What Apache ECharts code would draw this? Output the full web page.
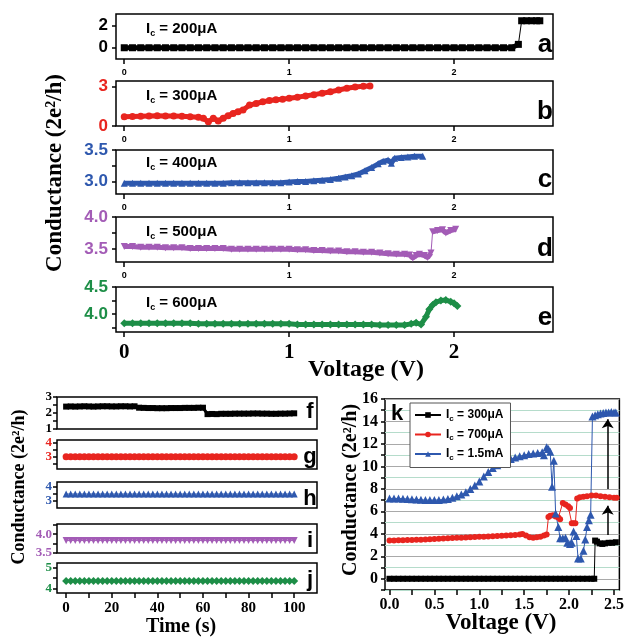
<!DOCTYPE html>
<html>
<head>
<meta charset="utf-8">
<script src="https://cdn.jsdelivr.net/npm/echarts@6.0.0/dist/echarts.min.js"></script>
<style>
  html, body { margin: 0; padding: 0; background: #fff; }
  #chart { width: 627px; height: 637px; }
</style>
</head>
<body>
<div id="chart"></div>
<script>
// ---- panel a : Ic = 200uA ----
var aVoltLow = [0.00,0.05,0.10,0.15,0.20,0.25,0.30,0.35,0.40,0.45,0.50,0.55,0.60,0.65,0.70,0.75,
  0.80,0.85,0.90,0.95,1.00,1.05,1.10,1.15,1.20,1.25,1.30,1.35,1.40,1.45,1.50,1.55,
  1.60,1.65,1.70,1.75,1.80,1.85,1.90,1.95,2.00,2.05,2.10,2.15,2.20,2.25,2.30,2.35,2.39];
var aCondLow = [0,0,0,0,0,0,0,0,0,0,0,0,0,0,0,0,
  0,0,0,0,0,0,0,0,0,0,0,0,0,0,0,0,
  0,0,0,0,0,0,0,0,0,0,0,0,0,0,0,0,0.3];
var aVoltHigh = [2.41,2.44,2.47,2.50,2.52];
var aCondHigh = [2.4,2.4,2.4,2.4,2.4];

// ---- panel b : Ic = 300uA ----
var bVolt = [0.00,0.05,0.10,0.15,0.20,0.25,0.30,0.35,0.40,0.45,0.48,0.51,0.54,0.57,0.60,0.63,0.66,0.69,
  0.72,0.76,0.80,0.84,0.88,0.92,0.96,1.00,1.05,1.10,1.15,1.20,1.25,1.30,1.35,1.40,1.45,1.49];
var bCond = [0.70,0.72,0.74,0.76,0.77,0.76,0.75,0.73,0.70,0.66,0.58,0.32,0.58,0.38,0.58,0.78,0.95,1.08,
  1.20,1.58,1.70,1.83,1.92,1.98,2.03,2.10,2.18,2.27,2.37,2.47,2.58,2.72,2.85,2.95,3.00,3.02];

// ---- panel c : Ic = 400uA ----
var cVolt = [0.00,0.05,0.10,0.15,0.20,0.25,0.30,0.35,0.40,0.45,0.50,0.55,0.60,0.65,0.70,0.75,0.80,0.85,
  0.90,0.95,1.00,1.05,1.10,1.15,1.20,1.25,1.30,1.34,1.38,1.42,1.46,1.50,1.54,1.57,1.60,1.62,1.64,1.68,1.72,1.76,1.81];
var cCond = [2.97,2.97,2.97,2.97,2.97,2.97,2.97,2.97,2.97,2.97,2.97,2.97,2.97,2.98,2.98,2.98,2.98,2.98,
  2.98,2.98,2.99,3.00,3.00,3.01,3.02,3.03,3.05,3.07,3.09,3.12,3.17,3.22,3.28,3.32,3.34,3.29,3.37,3.38,3.39,3.40,3.40];

// ---- panel d : Ic = 500uA ----
var dVoltLow = [0.00,0.05,0.10,0.15,0.20,0.25,0.30,0.35,0.40,0.45,0.50,0.55,0.60,0.65,0.70,0.75,0.80,0.85,
  0.90,0.95,1.00,1.05,1.10,1.15,1.20,1.25,1.30,1.35,1.40,1.45,1.50,1.55,1.60,1.65,1.70,
  1.73,1.75,1.77,1.79,1.82,1.84,1.86];
var dCondLow = [3.54,3.54,3.53,3.53,3.53,3.52,3.52,3.52,3.51,3.51,3.51,3.51,3.51,3.50,3.50,3.50,3.50,3.50,
  3.50,3.50,3.50,3.49,3.49,3.48,3.48,3.47,3.47,3.46,3.46,3.45,3.45,3.44,3.43,3.42,3.42,
  3.41,3.36,3.40,3.42,3.40,3.37,3.44];
var dVoltHigh = [1.87,1.90,1.93,1.95,1.98,2.01];
var dCondHigh = [3.77,3.79,3.80,3.75,3.79,3.81];

// ---- panel e : Ic = 600uA ----
var eVolt = [0.00,0.05,0.10,0.15,0.20,0.25,0.30,0.35,0.40,0.45,0.50,0.55,0.60,0.65,0.70,0.75,0.80,0.85,
  0.90,0.95,1.00,1.05,1.10,1.15,1.20,1.25,1.30,1.35,1.40,1.45,1.50,1.55,1.60,1.65,1.70,
  1.74,1.77,1.80,1.83,1.85,1.87,1.89,1.92,1.95,1.98,2.00,2.02];
var eCond = [3.83,3.83,3.83,3.83,3.83,3.83,3.83,3.83,3.83,3.82,3.82,3.82,3.82,3.82,3.82,3.82,3.82,3.82,
  3.82,3.82,3.82,3.81,3.81,3.81,3.81,3.81,3.81,3.81,3.81,3.81,3.81,3.80,3.80,3.80,3.80,
  3.82,3.84,3.81,3.95,4.09,4.17,4.22,4.25,4.26,4.23,4.20,4.15];

// ---- panels f-j : conductance vs time ----
var tSec = [0,2,4,6,8,10,12,14,16,18,20,22,24,26,28,30,32,34,36,38,40,42,44,46,48,50,
  52,54,56,58,60,62,64,66,68,70,72,74,76,78,80,82,84,86,88,90,92,94,96,98,100];
var fCond = [2.40,2.41,2.40,2.41,2.42,2.41,2.40,2.41,2.42,2.42,2.41,2.41,2.42,2.42,2.41,2.42,
  2.33,2.32,2.31,2.31,2.30,2.30,2.30,2.31,2.31,2.31,2.32,2.32,2.32,2.33,2.33,
  1.93,1.94,1.93,1.95,1.95,1.95,1.96,1.96,1.96,1.96,1.97,1.97,1.96,1.96,1.95,1.95,1.96,1.96,1.97,1.98];
var gCond = [3.00,3.00,3.00,3.00,3.00,3.00,3.00,3.00,3.00,3.00,3.00,3.00,3.00,3.00,3.00,3.00,3.00,
  3.00,3.00,3.00,3.00,3.00,3.00,3.00,3.00,3.00,3.00,3.00,3.00,3.00,3.00,3.00,3.00,3.00,
  3.00,3.00,3.00,3.00,3.00,3.00,3.00,3.00,3.00,3.00,3.00,3.00,3.00,3.00,3.00,3.00,3.00];
var hCond = [3.48,3.48,3.48,3.48,3.48,3.48,3.48,3.48,3.48,3.48,3.48,3.48,3.48,3.48,3.48,3.48,3.48,
  3.48,3.48,3.48,3.48,3.48,3.48,3.48,3.48,3.48,3.48,3.48,3.48,3.48,3.48,3.48,3.48,3.48,
  3.48,3.48,3.48,3.48,3.48,3.48,3.48,3.48,3.48,3.48,3.48,3.48,3.48,3.48,3.48,3.48,3.48];
var iCond = [3.83,3.83,3.83,3.83,3.83,3.83,3.83,3.83,3.83,3.83,3.83,3.83,3.83,3.83,3.83,3.83,3.83,
  3.83,3.83,3.83,3.83,3.83,3.83,3.83,3.83,3.83,3.83,3.83,3.83,3.83,3.83,3.83,3.83,3.83,
  3.83,3.83,3.83,3.83,3.83,3.83,3.83,3.83,3.83,3.83,3.83,3.83,3.83,3.83,3.83,3.83,3.83];
var jCond = [4.37,4.37,4.37,4.37,4.37,4.37,4.37,4.37,4.37,4.37,4.37,4.37,4.37,4.37,4.37,4.37,4.37,
  4.37,4.37,4.37,4.37,4.37,4.37,4.37,4.37,4.37,4.37,4.37,4.37,4.37,4.37,4.37,4.37,4.37,
  4.37,4.37,4.37,4.37,4.37,4.37,4.37,4.37,4.37,4.37,4.37,4.37,4.37,4.37,4.37,4.37,4.37];

// ---- panel k ----
var kNames = ['Ic = 300\u03bcA', 'Ic = 700\u03bcA', 'Ic = 1.5mA'];
var kBlackVolt = [0.00,0.05,0.10,0.15,0.20,0.25,0.30,0.35,0.40,0.45,0.50,0.55,0.60,0.65,0.70,0.75,
  0.80,0.85,0.90,0.95,1.00,1.05,1.10,1.15,1.20,1.25,1.30,1.35,1.40,1.45,1.50,1.55,
  1.60,1.65,1.70,1.75,1.80,1.85,1.90,1.95,2.00,2.05,2.10,2.15,2.20,2.25,2.28,
  2.29,2.31,2.34,2.37,2.40,2.44,2.48,2.52];
var kBlackCond = [0,0,0,0,0,0,0,0,0,0,0,0,0,0,0,0,
  0,0,0,0,0,0,0,0,0,0,0,0,0,0,0,0,
  0,0,0,0,0,0,0,0,0,0,0,0,0,0,0,
  3.40,3.30,3.15,3.10,3.15,3.20,3.20,3.25];
var kRedVolt = [0.00,0.05,0.10,0.15,0.20,0.25,0.30,0.35,0.40,0.45,0.50,0.55,0.60,0.65,0.70,
  0.75,0.80,0.85,0.90,0.95,1.00,1.05,1.10,1.15,1.20,1.25,1.30,1.35,1.40,1.45,
  1.48,1.52,1.56,1.60,1.64,1.68,1.72,1.75,1.77,1.79,1.82,1.85,1.88,1.90,
  1.93,1.96,1.99,2.01,2.03,2.05,2.07,2.09,2.12,2.16,2.20,2.25,2.30,2.35,2.40,2.45,2.50,2.53];
var kRedCond = [3.40,3.41,3.42,3.43,3.44,3.45,3.47,3.48,3.50,3.52,3.54,3.56,3.58,3.60,3.62,
  3.64,3.66,3.68,3.70,3.72,3.73,3.75,3.77,3.79,3.80,3.82,3.84,3.87,3.90,3.95,
  3.98,3.85,3.70,3.65,3.70,3.75,3.85,3.95,5.50,5.60,5.65,5.55,5.45,5.30,
  6.75,6.60,6.45,6.30,4.95,4.95,4.95,7.15,7.25,7.30,7.35,7.40,7.40,7.35,7.30,7.25,7.20,7.20];
var kBlueVolt = [0.00,0.05,0.10,0.15,0.20,0.25,0.30,0.35,0.40,0.45,0.50,0.55,0.60,0.65,0.70,
  0.75,0.80,0.85,0.90,0.95,1.00,1.05,1.10,1.15,1.20,1.25,1.30,1.35,1.40,1.45,1.50,1.55,1.60,1.65,1.70,
  1.72,1.75,1.77,1.79,1.81,1.83,1.85,1.88,1.90,1.93,1.96,1.98,2.01,2.03,2.05,
  2.08,2.10,2.13,2.16,2.18,2.20,2.22,2.24,2.26,2.29,2.32,2.35,2.38,2.41,2.44,2.47,2.50,2.52];
var kBlueCond = [7.15,7.15,7.15,7.12,7.10,7.08,7.05,7.03,7.00,7.00,7.00,7.02,7.05,7.10,7.20,
  7.35,7.50,7.70,8.00,8.30,8.65,9.10,9.50,9.85,10.10,10.30,10.50,10.65,10.80,10.90,11.00,11.10,11.15,11.20,11.25,
  11.00,11.70,11.55,11.30,8.20,10.50,5.80,4.60,3.60,3.60,3.65,3.20,3.10,3.20,4.20,
  3.80,1.80,1.80,2.50,3.50,4.60,5.20,5.70,14.45,14.55,14.65,14.70,14.75,14.80,14.80,14.85,14.80,14.80];
// arrows: [voltage, from, to]
var kArrows = [[2.43, 3.9, 6.5], [2.43, 8.0, 14.2]];

var SANS = '"Liberation Sans", Arial, sans-serif';
var SERIF = '"Liberation Serif", "Times New Roman", serif';
var RED = '#e8251f', BLUE = '#2e58ae', PURPLE = '#a35cb6', GREEN = '#1d8e47', BLACK = '#000';

function zip(xs, ys) {
  return xs.map(function (x, i) { return [x, ys[i]]; });
}

var grids = [], xAxes = [], yAxes = [], series = [];

function addPanel(g, xa, ya) {
  grids.push(Object.assign({ show: true, borderColor: '#000', borderWidth: 1.5, containLabel: false }, g));
  var idx = grids.length - 1;
  xa.gridIndex = idx; ya.gridIndex = idx;
  xAxes.push(xa); yAxes.push(ya);
  return idx;
}

function vAxis(min, max, labels, ticks, color, fontSize, fontFamily, digits, margin) {
  return {
    type: 'value', min: min, max: max, position: 'left',
    axisLine: { show: false, onZero: false },
    splitLine: { show: false },
    axisTick: { show: true, inside: false, length: 4, customValues: ticks, lineStyle: { color: '#000', width: 1.5 } },
    axisLabel: {
      show: labels.length > 0, customValues: labels, color: color, fontSize: fontSize,
      fontWeight: 'bold', fontFamily: fontFamily, margin: margin,
      formatter: function (v) { return v.toFixed(digits); }
    }
  };
}

function hAxis(min, max, labels, ticks, fontSize, fontFamily, margin) {
  return {
    type: 'value', min: min, max: max, position: 'bottom',
    axisLine: { show: false, onZero: false },
    splitLine: { show: false },
    axisTick: { show: ticks.length > 0, inside: false, length: 5, customValues: ticks, lineStyle: { color: '#000', width: 1.5 } },
    axisLabel: {
      show: labels.length > 0, customValues: labels, color: '#000', fontSize: fontSize,
      fontWeight: 'bold', fontFamily: fontFamily, margin: margin,
      formatter: function (v) { return String(v); }
    }
  };
}

function band(idx, data, color, symbol, size, rotate, width) {
  series.push({
    type: 'line', xAxisIndex: idx, yAxisIndex: idx, data: data,
    symbol: symbol, symbolSize: size, symbolRotate: rotate || 0,
    itemStyle: { color: color }, lineStyle: { color: color, width: width },
    animation: false, silent: true, z: 3
  });
}

// top stack a-e
var p;
p = addPanel({ left: 116, top: 14, width: 437, height: 45 },
  hAxis(-0.05, 2.6, [0, 1, 2], [0, 1, 2], 9, SANS, 9),
  vAxis(-1, 3, [0, 2], [0, 2], BLACK, 17, SANS, 0, 8));
band(p, zip(aVoltLow, aCondLow), BLACK, 'rect', 7, 0, 5);
band(p, zip(aVoltHigh, aCondHigh), BLACK, 'rect', 7, 0, 5);
band(p, [[aVoltLow[aVoltLow.length - 1], aCondLow[aCondLow.length - 1]], [aVoltHigh[0], aCondHigh[0]]], BLACK, 'none', 0, 0, 1);

p = addPanel({ left: 116, top: 81, width: 437, height: 45 },
  hAxis(-0.05, 2.6, [0, 1, 2], [0, 1, 2], 9, SANS, 9),
  vAxis(0, 3.4, [0, 3], [0, 3], RED, 17, SANS, 0, 8));
band(p, zip(bVolt, bCond), RED, 'circle', 7, 0, 5);

p = addPanel({ left: 116, top: 150, width: 437, height: 44 },
  hAxis(-0.05, 2.6, [0, 1, 2], [0, 1, 2], 9, SANS, 9),
  vAxis(2.8, 3.5, [3.0, 3.5], [3.0, 3.25, 3.5], BLUE, 17, SANS, 1, 8));
band(p, zip(cVolt, cCond), BLUE, 'triangle', 7, 0, 5);

p = addPanel({ left: 116, top: 217, width: 437, height: 45 },
  hAxis(-0.05, 2.6, [0, 1, 2], [0, 1, 2], 9, SANS, 9),
  vAxis(3.3, 4.0, [3.5, 4.0], [3.5, 3.75, 4.0], PURPLE, 17, SANS, 1, 8));
band(p, zip(dVoltLow, dCondLow), PURPLE, 'triangle', 7, 180, 5);
band(p, zip(dVoltHigh, dCondHigh), PURPLE, 'triangle', 7, 180, 5);
band(p, [[dVoltLow[dVoltLow.length - 1], dCondLow[dCondLow.length - 1]], [dVoltHigh[0], dCondHigh[0]]], PURPLE, 'none', 0, 0, 1);

p = addPanel({ left: 116, top: 287, width: 437, height: 45 },
  hAxis(-0.05, 2.6, [0, 1, 2], [0, 1, 2], 21, SERIF, 10),
  vAxis(3.67, 4.5, [4.0, 4.5], [3.75, 4.0, 4.25, 4.5], GREEN, 17, SANS, 1, 8));
band(p, zip(eVolt, eCond), GREEN, 'diamond', 8, 0, 5);

// bottom-left stack f-j
p = addPanel({ left: 57, top: 397, width: 260, height: 32 },
  hAxis(-4, 110, [], [], 12, SERIF, 6),
  vAxis(1, 3, [1, 2, 3], [1, 1.5, 2, 2.5, 3], BLACK, 13, SERIF, 0, 5));
band(p, zip(tSec, fCond), BLACK, 'rect', 6, 0, 3);

p = addPanel({ left: 57, top: 440, width: 260, height: 29 },
  hAxis(-4, 110, [], [], 12, SERIF, 6),
  vAxis(2.1, 4.22, [3, 4], [2.5, 3, 3.5, 4], RED, 13, SERIF, 0, 5));
band(p, zip(tSec, gCond), RED, 'circle', 7, 0, 1);

p = addPanel({ left: 57, top: 482, width: 260, height: 26 },
  hAxis(-4, 110, [], [], 12, SERIF, 6),
  vAxis(2.48, 4.34, [3, 4], [3, 3.5, 4], BLUE, 13, SERIF, 0, 5));
band(p, zip(tSec, hCond), BLUE, 'triangle', 7, 0, 1);

p = addPanel({ left: 57, top: 524, width: 260, height: 29 },
  hAxis(-4, 110, [], [], 12, SERIF, 6),
  vAxis(3.5, 4.27, [3.5, 4.0], [3.5, 3.75, 4.0, 4.25], PURPLE, 13, SERIF, 1, 5));
band(p, zip(tSec, iCond), PURPLE, 'triangle', 7, 180, 1);

p = addPanel({ left: 57, top: 563, width: 260, height: 30 },
  hAxis(-4, 110, [0, 20, 40, 60, 80, 100], [0, 10, 20, 30, 40, 50, 60, 70, 80, 90, 100], 15, SERIF, 8),
  vAxis(3.82, 5.2, [4, 5], [4, 4.5, 5], GREEN, 13, SERIF, 0, 5));
band(p, zip(tSec, jCond), GREEN, 'diamond', 8, 0, 1);

// panel k
var kx = hAxis(-0.05, 2.56, [0, 0.5, 1, 1.5, 2, 2.5],
  [0, 0.25, 0.5, 0.75, 1, 1.25, 1.5, 1.75, 2, 2.25, 2.5], 16, SERIF, 7);
kx.axisLabel.formatter = function (v) { return v.toFixed(1); };
var ky = {
  type: 'value', min: -1, max: 16, interval: 1, position: 'left',
  axisLine: { show: false, onZero: false },
  axisTick: { show: true, inside: false, length: 4, lineStyle: { color: '#000', width: 1.5 } },
  axisLabel: {
    color: '#000', fontSize: 16, fontWeight: 'bold', fontFamily: SERIF, margin: 7,
    formatter: function (v) { return (v % 2 === 0) ? String(v) : ''; }
  },
  splitLine: { show: true, lineStyle: { color: ['#b5dccb', '#a9a9a9'], width: 1 } }
};
var kIdx = addPanel({ left: 385, top: 399, width: 237, height: 191 }, kx, ky);

function kSeries(name, xs, ys, color, symbol, size) {
  return {
    name: name, type: 'line', xAxisIndex: kIdx, yAxisIndex: kIdx, data: zip(xs, ys),
    symbol: symbol, symbolSize: size,
    itemStyle: { color: color }, lineStyle: { color: color, width: 1 },
    animation: false, z: 3
  };
}
var sBlack = kSeries(kNames[0], kBlackVolt, kBlackCond, BLACK, 'rect', 6);
sBlack.markLine = {
  silent: true, symbol: ['none', 'arrow'], symbolSize: 9, animation: false,
  label: { show: false },
  lineStyle: { color: '#000', width: 1.5, type: 'solid' },
  data: kArrows.map(function (a) { return [{ coord: [a[0], a[1]] }, { coord: [a[0], a[2]] }]; })
};
series.push(sBlack);
series.push(kSeries(kNames[1], kRedVolt, kRedCond, RED, 'circle', 6));
series.push(kSeries(kNames[2], kBlueVolt, kBlueCond, BLUE, 'triangle', 8));

var icRich = {
  i: { fontFamily: SANS, fontWeight: 'bold', fontSize: 15, lineHeight: 18 },
  s: { fontFamily: SANS, fontWeight: 'bold', fontSize: 9, lineHeight: 9, verticalAlign: 'bottom' },
  t: { fontFamily: SANS, fontWeight: 'bold', fontSize: 15, lineHeight: 18 }
};
function icLabel(x, y, rest) {
  return { type: 'text', x: x, y: y, z: 10,
    style: { text: '{i|I}{s|c}{t| = ' + rest + '}', rich: icRich, fill: '#000', verticalAlign: 'middle' } };
}
function txt(x, y, s, font, rot) {
  return { type: 'text', x: x, y: y, rotation: rot || 0, z: 10,
    style: { text: s, font: font, fill: '#000', align: 'center', verticalAlign: 'middle' } };
}

var graphics = [
  icLabel(146, 29, '200\u03bcA'), icLabel(146, 96, '300\u03bcA'), icLabel(146, 163, '400\u03bcA'),
  icLabel(146, 232, '500\u03bcA'), icLabel(146, 303, '600\u03bcA'),
  txt(545, 45, 'a', 'bold 26px ' + SANS), txt(545, 112, 'b', 'bold 26px ' + SANS),
  txt(545, 180, 'c', 'bold 26px ' + SANS), txt(545, 249, 'd', 'bold 26px ' + SANS),
  txt(545, 318, 'e', 'bold 26px ' + SANS),
  txt(310, 412, 'f', 'bold 22px ' + SANS), txt(310, 457, 'g', 'bold 22px ' + SANS),
  txt(310, 499, 'h', 'bold 22px ' + SANS), txt(310, 541, 'i', 'bold 22px ' + SANS),
  txt(310, 580, 'j', 'bold 22px ' + SANS),
  txt(397, 414, 'k', 'bold 22px ' + SANS),
  txt(55, 173, 'Conductance (2e\u00b2/h)', 'bold 23px ' + SERIF, Math.PI / 2),
  txt(366, 370, 'Voltage (V)', 'bold 24px ' + SERIF),
  txt(19, 487, 'Conductance (2e\u00b2/h)', 'bold 18px ' + SERIF, Math.PI / 2),
  txt(181, 627, 'Time (s)', 'bold 20px ' + SERIF),
  txt(351, 490, 'Conductance (2e\u00b2/h)', 'bold 20px ' + SERIF, Math.PI / 2),
  txt(501, 623, 'Voltage (V)', 'bold 23px ' + SERIF)
];

var chart = echarts.init(document.getElementById('chart'));
chart.setOption({
  backgroundColor: '#fff',
  animation: false,
  grid: grids,
  xAxis: xAxes,
  yAxis: yAxes,
  series: series,
  legend: {
    data: kNames, left: 410, top: 403, orient: 'vertical',
    backgroundColor: '#fff', borderColor: '#555', borderWidth: 1,
    padding: [6, 7, 6, 4], itemWidth: 26, itemHeight: 7, itemGap: 6,
    textStyle: {
      color: '#000',
      rich: {
        i: { fontFamily: SANS, fontWeight: 'bold', fontSize: 12, lineHeight: 15 },
        s: { fontFamily: SANS, fontWeight: 'bold', fontSize: 8, lineHeight: 8, verticalAlign: 'bottom' },
        t: { fontFamily: SANS, fontWeight: 'bold', fontSize: 12, lineHeight: 15 }
      }
    },
    formatter: function (name) { return '{i|I}{s|c}{t|' + name.slice(2) + '}'; }
  },
  graphic: graphics
});
</script>
</body>
</html>
